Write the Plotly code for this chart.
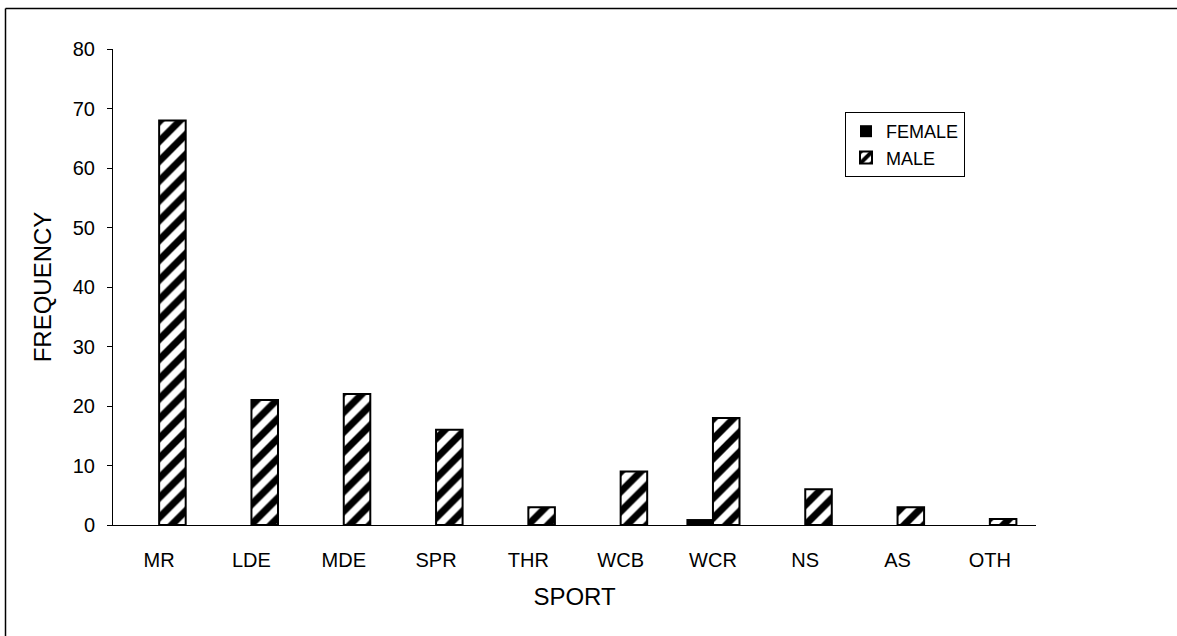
import plotly.graph_objects as go

# Sport categories and counts by sex
sports = ["MR", "LDE", "MDE", "SPR", "THR", "WCB", "WCR", "NS", "AS", "OTH"]
female = [0, 0, 0, 0, 0, 0, 1, 0, 0, 0]
male = [68, 21, 22, 16, 3, 9, 18, 6, 3, 1]
y_ticks = [0, 10, 20, 30, 40, 50, 60, 70, 80]

W, H = 1177, 636
L, R, T, B = 113, 141, 49, 111
pw, ph = W - L - R, H - T - B

FAMILY = "Liberation Sans, Arial, sans-serif"
font = dict(family=FAMILY, size=20, color="black")

fig = go.Figure()
fig.add_trace(go.Bar(
    x=sports, y=female, name="FEMALE",
    marker=dict(color="black", line=dict(color="black", width=0)),
))
fig.add_trace(go.Bar(
    x=sports, y=male, name="MALE",
    marker=dict(
        color="white",
        line=dict(color="black", width=2),
        pattern=dict(shape="/", fgcolor="black", bgcolor="white",
                     fgopacity=1, size=14, solidity=0.5),
    ),
))


def px_x(x):
    return (x - L) / pw


def px_y(y):
    return (H - B - y) / ph


# Outer frame (left and top edges)
frame = dict(color="black", width=1.5)
fig.add_shape(type="line", xref="paper", yref="paper",
              x0=px_x(5.5), x1=px_x(1230), y0=px_y(8.5), y1=px_y(8.5), line=frame)
fig.add_shape(type="line", xref="paper", yref="paper",
              x0=px_x(5.5), x1=px_x(5.5), y0=px_y(8.5), y1=px_y(680), line=frame)

fig.update_layout(
    width=W, height=H,
    margin=dict(l=L, r=R, t=T, b=B),
    paper_bgcolor="white", plot_bgcolor="white",
    font=font,
    barmode="group", bargap=0.425, bargroupgap=0,
    showlegend=True,
    legend=dict(
        x=px_x(845), y=px_y(112), xanchor="left", yanchor="top",
        bordercolor="black", borderwidth=1, bgcolor="white",
        font=dict(family=FAMILY, size=18, color="black"),
        itemwidth=30, tracegroupgap=0,
    ),
    xaxis=dict(
        title=dict(text="SPORT", font=dict(family=FAMILY, size=24), standoff=18),
        showline=True, linecolor="black", linewidth=1,
        ticks="", showgrid=False, ticklabelstandoff=17,
        tickfont=dict(family=FAMILY, size=20),
    ),
    yaxis=dict(
        title=dict(text="FREQUENCY", font=dict(family=FAMILY, size=24), standoff=14),
        range=[0, 80], tickvals=y_ticks,
        showline=True, linecolor="black", linewidth=1,
        ticks="outside", ticklen=5, tickcolor="black",
        showgrid=False, zeroline=False, ticklabelstandoff=8,
        tickfont=dict(family=FAMILY, size=20),
    ),
)

fig.write_html("out.html")
